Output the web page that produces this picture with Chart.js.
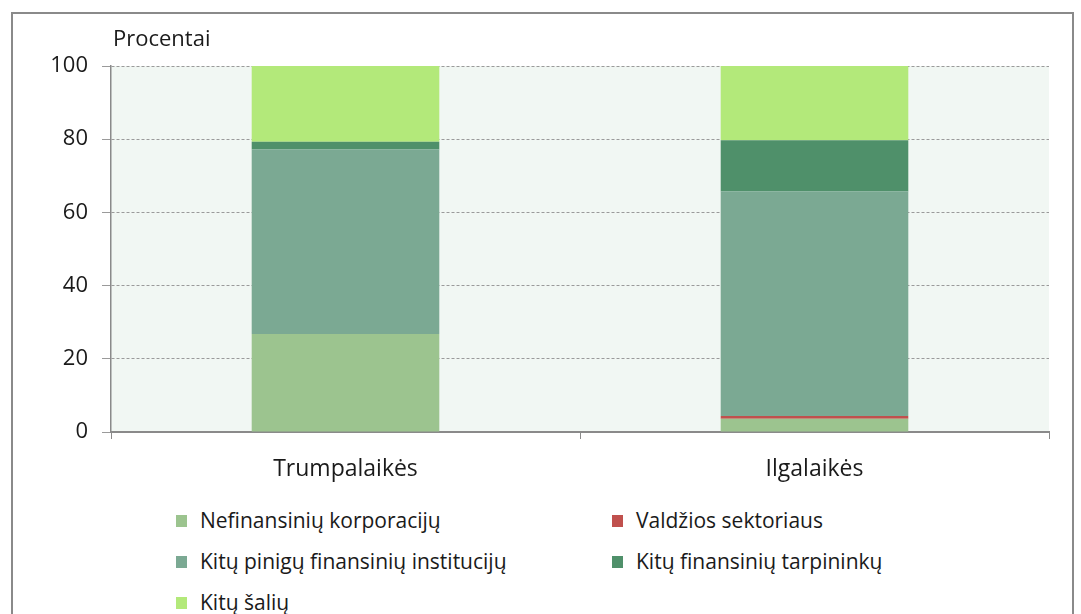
<!DOCTYPE html>
<html lang="lt">
<head>
<meta charset="utf-8">
<script src="https://cdn.jsdelivr.net/npm/chart.js@4.4.0/dist/chart.umd.min.js"></script>
<style>
  html, body { margin: 0; padding: 0; background: #fff; }
  body { width: 1081px; height: 614px; position: relative; overflow: hidden; font-family: "Open Sans", Lato, sans-serif; }
  #remelis { position: absolute; left: 11px; top: 12px; width: 1063px; height: 640px; border: 2px solid #8a8a8a; box-sizing: border-box; }
  #grafikas { position: absolute; left: 0; top: 0; width: 1081px; height: 500px; }
  #vienetai { position: absolute; left: 113px; top: 22px; font-size: 22px; line-height: 30px; color: #1a1a1a; }
  #legenda { position: absolute; left: 176px; top: 506px; width: 800px; }
  .leg-item { position: absolute; font-size: 21px; color: #1a1a1a; white-space: nowrap; line-height: 28px; }
  .leg-item span { display: inline-block; width: 11px; height: 12px; margin-right: 13px; vertical-align: 1px; }
</style>
</head>
<body>
<div id="remelis"></div>
<div id="grafikas"><canvas id="canvas-grafikas"></canvas></div>
<div id="vienetai">Procentai</div>
<div id="legenda"></div>
<script>
const kategorijos = ["Trumpalaikės", "Ilgalaikės"];
const nefinansiniuKorporaciju = [26.8, 3.6];
const valdziosSektoriaus = [0, 0.8];
const kituPiniguFinansiniuInstituciju = [50.4, 61.3];
const kituFinansiniuTarpininku = [2.1, 14.0];
const kituSaliu = [20.7, 20.3];
const yTikai = [0, 20, 40, 60, 80, 100];

const serijos = [
  { label: "Nefinansinių korporacijų", data: nefinansiniuKorporaciju, color: "#9cc48f" },
  { label: "Valdžios sektoriaus", data: valdziosSektoriaus, color: "#c0504d" },
  { label: "Kitų pinigų finansinių institucijų", data: kituPiniguFinansiniuInstituciju, color: "#7ba993" },
  { label: "Kitų finansinių tarpininkų", data: kituFinansiniuTarpininku, color: "#4f906a" },
  { label: "Kitų šalių", data: kituSaliu, color: "#b3e97a" },
];

// fonas tik braižymo srityje
const fonoPlugin = {
  id: "fonas",
  beforeDraw(chart) {
    const { ctx, chartArea } = chart;
    ctx.save();
    ctx.fillStyle = "#f1f7f3";
    ctx.fillRect(chartArea.left, chartArea.top, chartArea.right - chartArea.left, chartArea.bottom - chartArea.top);
    ctx.restore();
  },
};

new Chart(document.getElementById("canvas-grafikas"), {
  type: "bar",
  data: {
    labels: kategorijos,
    datasets: serijos.map((s) => ({
      label: s.label,
      data: s.data,
      backgroundColor: s.color,
      borderWidth: 0,
      barPercentage: 0.4,
      categoryPercentage: 1,
    })),
  },
  options: {
    responsive: true,
    maintainAspectRatio: false,
    animation: false,
    layout: { padding: { top: 66, right: 32, left: 0, bottom: 0 } },
    plugins: { legend: { display: false }, tooltip: { enabled: false } },
    scales: {
      x: {
        stacked: true,
        afterFit: (s) => { s.height = 68; },
        grid: { display: true, drawOnChartArea: false, drawTicks: true, tickLength: 7, color: "#8a8a8a", offset: true },
        border: { color: "#8a8a8a", width: 2 },
        ticks: { color: "#1a1a1a", font: { family: "Open Sans", size: 23 }, padding: 17 },
      },
      y: {
        stacked: true,
        min: 0,
        max: 100,
        afterFit: (s) => { s.width = 111; },
        afterBuildTicks: (s) => { s.ticks = yTikai.map((v) => ({ value: v })); },
        grid: { color: "#9a9a9a", tickLength: 9, tickBorderDash: [] },
        border: { color: "#8a8a8a", width: 1.5, dash: [3, 2] },
        ticks: { color: "#1a1a1a", font: { family: "Open Sans", size: 22 }, padding: 14 },
      },
    },
  },
  plugins: [fonoPlugin],
});

// legenda dviem stulpeliais
const $legenda = document.getElementById("legenda");
serijos.forEach((s, i) => {
  const $el = document.createElement("div");
  $el.className = "leg-item";
  $el.style.left = (i % 2 === 0 ? 0 : 436) + "px";
  $el.style.top = Math.floor(i / 2) * 41 + "px";
  $el.innerHTML = `<span style="background:${s.color}"></span>${s.label}`;
  $legenda.appendChild($el);
});
</script>
</body>
</html>
